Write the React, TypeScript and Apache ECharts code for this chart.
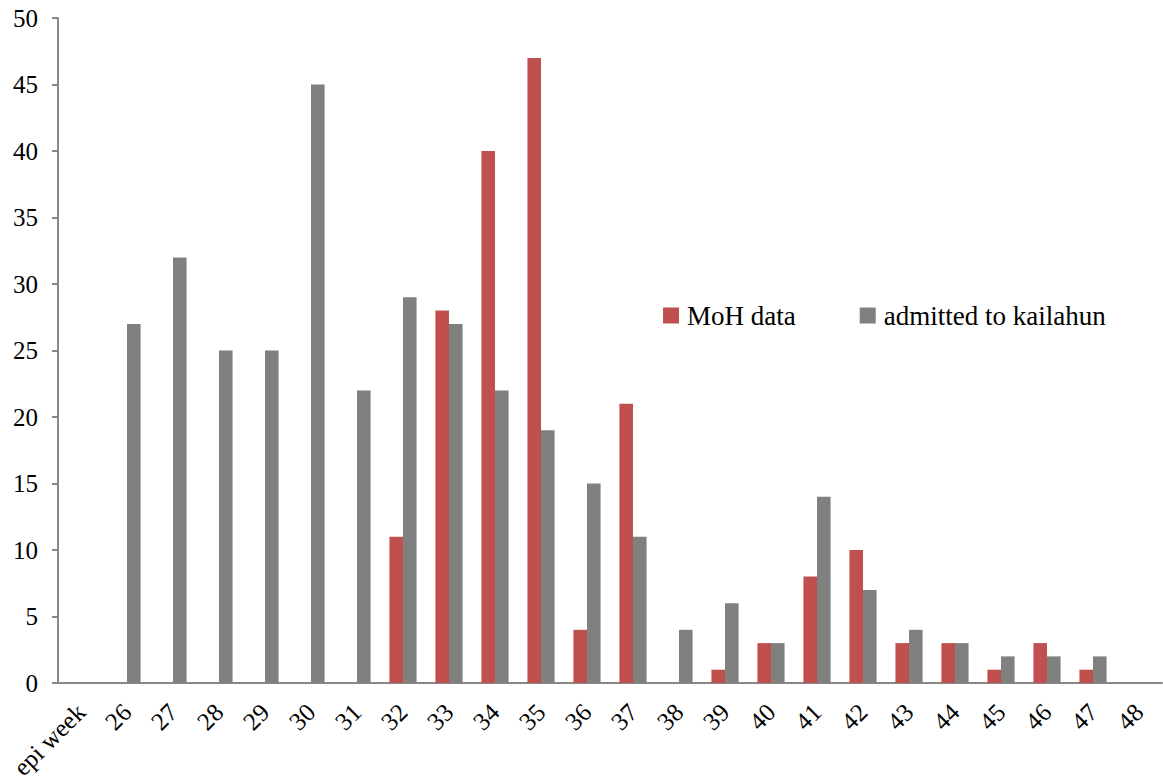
import React, { useEffect, useRef } from "react";
import * as echarts from "echarts";

const categories = ["epi week", "26", "27", "28", "29", "30", "31", "32", "33", "34", "35", "36", "37", "38", "39", "40", "41", "42", "43", "44", "45", "46", "47", "48"];
const mohData = [null, null, null, null, null, null, null, 11, 28, 40, 47, 4, 21, null, 1, 3, 8, 10, 3, 3, 1, 3, 1, null];
const admittedData = [null, 27, 32, 25, 25, 45, 22, 29, 27, 22, 19, 15, 11, 4, 6, 3, 14, 7, 4, 3, 2, 2, 2, null];

const FONT = "Liberation Serif";
const FS = 25;

export default function App() {
  const ref = useRef<HTMLDivElement>(null);
  useEffect(() => {
    const chart = echarts.init(ref.current!, null, { renderer: "svg" });
    chart.setOption({
      animation: false,
      textStyle: { fontFamily: FONT },
      legend: {
        left: 663,
        top: 302,
        padding: 0,
        itemWidth: 16,
        itemHeight: 16,
        itemGap: 64,
        icon: "rect",
        textStyle: { fontFamily: FONT, fontSize: 27, color: "#000", padding: [0, 0, 0, 3] },
        data: ["MoH data", "admitted to kailahun"],
      },
      grid: { left: 58, right: 1, top: 18, bottom: 100, containLabel: false, outerBoundsMode: "none" },
      xAxis: {
        type: "category",
        data: categories,
        axisLine: { lineStyle: { color: "#888", width: 2 } },
        axisTick: { length: 10, lineStyle: { color: "#888", width: 2 } },
        axisLabel: { rotate: 45, fontFamily: FONT, fontSize: FS, color: "#000", margin: 25, interval: 0 },
      },
      yAxis: {
        type: "value",
        min: 0,
        max: 50,
        interval: 5,
        splitLine: { show: false },
        axisLine: { show: true, lineStyle: { color: "#888", width: 2 } },
        axisTick: { show: true, length: 6, lineStyle: { color: "#888", width: 2 } },
        axisLabel: { fontFamily: FONT, fontSize: FS, color: "#000", margin: 20 },
      },
      series: [
        {
          name: "MoH data",
          type: "bar",
          data: mohData,
          itemStyle: { color: "#C0504D" },
          barGap: "0%",
          barCategoryGap: "41%",
        },
        {
          name: "admitted to kailahun",
          type: "bar",
          data: admittedData,
          itemStyle: { color: "#808080" },
          barGap: "0%",
          barCategoryGap: "41%",
        },
      ],
    });
    return () => chart.dispose();
  }, []);
  return <div ref={ref} style={{ position: "fixed", left: 0, top: 0, width: 1163, height: 783, background: "#fff" }} />;
}
